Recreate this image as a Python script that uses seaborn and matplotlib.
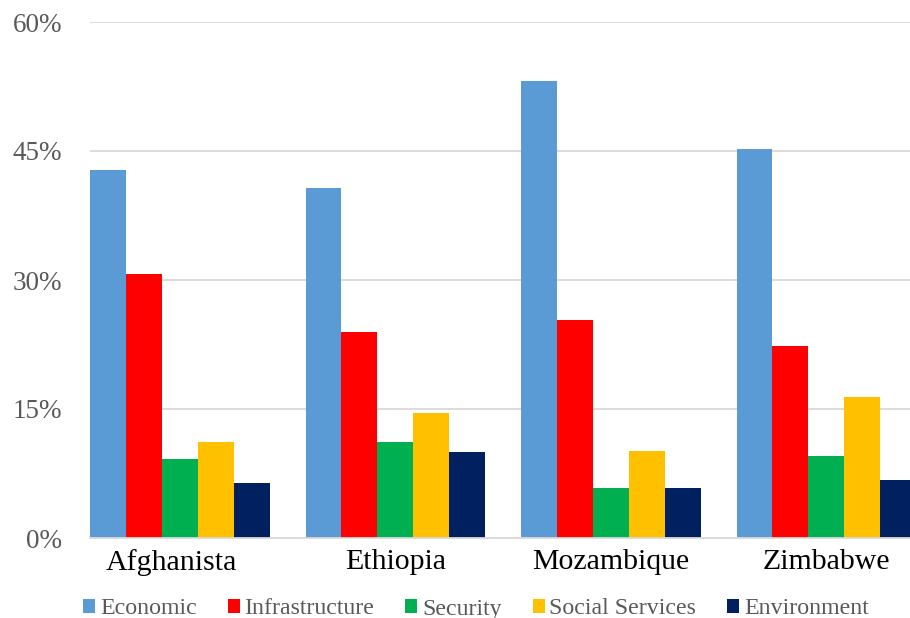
import pandas as pd
import matplotlib
matplotlib.use("Agg")
import matplotlib.pyplot as plt
import matplotlib.transforms as mtransforms
import seaborn as sns
from matplotlib.ticker import FuncFormatter

# values (percent)
countries = ["Afghanista", "Ethiopia", "Mozambique", "Zimbabwe"]
sectors = ["Economic", "Infrastructure", "Security", "Social Services", "Environment"]
economic = [42.8, 40.7, 53.1, 45.2]
infrastructure = [30.7, 24.0, 25.3, 22.3]
security = [9.2, 11.2, 5.8, 9.5]
social_services = [11.2, 14.5, 10.1, 16.4]
environment = [6.4, 10.0, 5.8, 6.7]
colors = ["#5B9BD5", "#FF0000", "#00B050", "#FFC000", "#002060"]
y_ticks = [0, 15, 30, 45, 60]

rows = []
for name, vals in zip(sectors, [economic, infrastructure, security, social_services, environment]):
    for c, v in zip(countries, vals):
        rows.append({"Country": c, "Sector": name, "Share": v})
df = pd.DataFrame(rows)

sns.set_style("white")
plt.rcParams["font.family"] = ["Liberation Serif", "DejaVu Serif"]

fig = plt.figure(figsize=(9.1, 6.18), dpi=100)
ax = fig.add_axes([90 / 910, 80 / 618, 820 / 910, 516 / 618])

sns.barplot(data=df, x="Country", y="Share", hue="Sector", order=countries,
            hue_order=sectors, palette=colors, width=5 / 6, gap=0,
            saturation=1, edgecolor="none", linewidth=0, ax=ax)

ax.set_ylim(0, 60)
ax.set_xlim(-5 / 12, -5 / 12 + 820 / 215.5)
ax.set_yticks(y_ticks)
ax.yaxis.set_major_formatter(FuncFormatter(lambda v, p: f"{v:.0f}%"))
ax.grid(axis="y", color="#D9D9D9", linewidth=1.3)
ax.set_axisbelow(True)
for s in ["top", "right", "left"]:
    ax.spines[s].set_visible(False)
ax.spines["bottom"].set_color("#D9D9D9")
ax.spines["bottom"].set_linewidth(1.3)
ax.tick_params(axis="y", length=0, pad=20, labelsize=19.5, labelcolor="#595959")
ax.tick_params(axis="x", length=0, pad=8, labelsize=21.5, labelcolor="black")
ax.set_xlabel("")
ax.set_ylabel("")

# the truncated first label sits a little left of its group
first = ax.get_xticklabels()[0]
first.set_transform(first.get_transform() +
                    mtransforms.ScaledTranslation(-8 / 100, 0, fig.dpi_scale_trans))

handles, labels = ax.get_legend_handles_labels()
ax.get_legend().remove()
leg = fig.legend(handles, labels, loc="center", bbox_to_anchor=(0.523, 1 - 609 / 618),
                 ncol=5, frameon=False, fontsize=17.2, handlelength=0.5,
                 handleheight=0.5, handletextpad=0.2, columnspacing=1.3,
                 borderaxespad=0)
for t in leg.get_texts():
    t.set_color("#595959")

fig.savefig("out.png", dpi=100)
